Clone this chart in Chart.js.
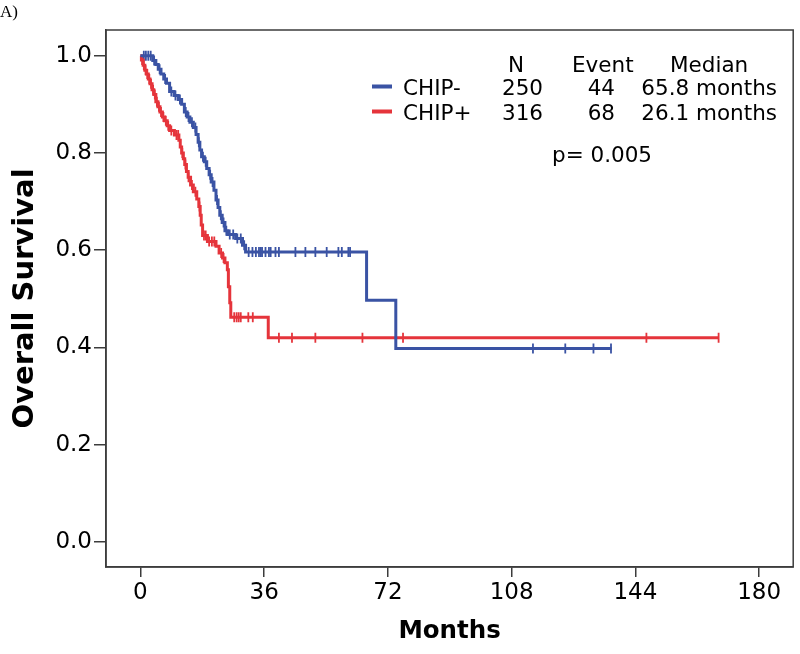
<!DOCTYPE html>
<html>
<head>
<meta charset="utf-8">
<script src="https://cdn.jsdelivr.net/npm/chart.js@4.4.1/dist/chart.umd.min.js"></script>
<style>
  html, body { margin: 0; padding: 0; background: #fff; }
  #wrap { position: relative; width: 800px; height: 654px; }
</style>
</head>
<body>
<div id="wrap"><canvas id="kmChart" width="800" height="654"></canvas></div>
<script>
// CHIP- : tiempos de evento (meses) y supervivencia despues del evento
var chipNegMonths = [0, 3.6, 4.5, 5.2, 6.0, 6.8, 7.6, 8.5, 9.8, 11.0, 12.0, 12.8, 13.6, 14.4, 15.4, 16.2, 16.8, 17.3, 17.8, 18.6, 19.3, 20.0, 20.6, 21.4, 22.0, 22.6, 23.1, 23.8, 24.6, 25.4, 27.7, 29.7, 30.6, 65.8, 74.3];
var chipNegSurv   = [1.0, 0.99, 0.982, 0.972, 0.962, 0.952, 0.943, 0.926, 0.918, 0.910, 0.900, 0.884, 0.874, 0.863, 0.852, 0.838, 0.822, 0.806, 0.792, 0.782, 0.768, 0.755, 0.740, 0.723, 0.703, 0.688, 0.672, 0.657, 0.640, 0.632, 0.624, 0.610, 0.596, 0.497, 0.398];
var chipNegLast = 137.1;
var chipNegCensor = [1.0, 1.6, 2.3, 3.0, 4.0, 5.6, 7.2, 9.0, 10.2, 11.5, 13.2, 14.0, 15.0, 16.0, 17.0, 18.2, 19.0, 20.3, 21.0, 22.3, 23.4, 24.2, 25.0, 26.0, 27.0, 28.2, 29.2, 30.2, 31.5, 32.6, 33.6, 34.5, 35.0, 35.4, 36.4, 37.4, 37.9, 39.3, 40.3, 45.1, 48.0, 50.9, 54.2, 57.6, 58.6, 60.5, 61.0, 114.2, 123.6, 131.8, 136.9];

// CHIP+
var chipPosMonths = [0, 0.3, 0.8, 1.3, 1.8, 2.3, 2.8, 3.4, 3.9, 4.5, 5.1, 5.7, 6.4, 7.0, 7.8, 8.5, 9.9, 11.2, 11.6, 12.0, 12.5, 12.9, 13.4, 13.9, 14.6, 15.4, 16.4, 17.0, 17.4, 17.7, 18.1, 19.5, 22.0, 22.9, 23.9, 24.6, 25.3, 25.6, 26.0, 26.3, 37.2];
var chipPosSurv   = [1.0, 0.991, 0.980, 0.970, 0.962, 0.952, 0.942, 0.930, 0.920, 0.905, 0.895, 0.884, 0.874, 0.866, 0.856, 0.846, 0.837, 0.826, 0.812, 0.800, 0.788, 0.776, 0.762, 0.750, 0.734, 0.720, 0.705, 0.690, 0.672, 0.652, 0.630, 0.618, 0.608, 0.594, 0.584, 0.574, 0.560, 0.525, 0.492, 0.462, 0.420];
var chipPosLast = 168.2;
var chipPosCensor = [0.5, 1.0, 1.5, 2.0, 2.6, 3.1, 3.7, 4.2, 4.8, 5.4, 6.0, 6.7, 7.4, 8.1, 9.0, 10.5, 11.0, 12.2, 13.1, 14.0, 15.0, 16.0, 17.2, 18.5, 19.0, 20.0, 20.8, 21.5, 23.5, 24.2, 27.3, 28.0, 28.6, 29.2, 31.4, 32.7, 40.3, 44.1, 50.9, 64.6, 76.4, 147.2, 168.2];

var xTicks = [0, 36, 72, 108, 144, 180];
var yTicks = [0.0, 0.2, 0.4, 0.6, 0.8, 1.0];

var groupNames = ['CHIP-', 'CHIP+'];
var groupN = ['250', '316'];
var groupEvents = ['44', '68'];
var groupMedians = ['65.8 months', '26.1 months'];
var pValueText = 'p= 0.005';

var BLUE = '#3a53a4';
var RED = '#e5343b';
var AXIS = '#3c3c3c';
var FONT = "'DejaVu Sans', 'Liberation Sans', Arial, sans-serif";

function stepPoints(months, surv, last) {
    var pts = [];
    for (var i = 0; i < months.length; i++) pts.push({ x: months[i], y: surv[i] });
    pts.push({ x: last, y: surv[surv.length - 1] });
    return pts;
}

function survAt(months, surv, t) {
    var s = surv[0];
    for (var i = 0; i < months.length; i++) {
        if (months[i] <= t) s = surv[i];
    }
    return s;
}

function censorPoints(times, months, surv) {
    return times.map(function (t) { return { x: t, y: survAt(months, surv, t) }; });
}

// marco completo y tabla de leyenda
var framePlugin = {
    id: 'frame',
    afterDraw: function (chart) {
        var ctx = chart.ctx;
        var a = chart.chartArea;
        ctx.save();
        ctx.strokeStyle = AXIS;
        ctx.lineWidth = 1.5;
        ctx.strokeRect(a.left, a.top, a.right - a.left, a.bottom - a.top);

        ctx.fillStyle = '#000';
        ctx.font = '21.5px ' + FONT;
        ctx.textBaseline = 'alphabetic';
        ctx.textAlign = 'left';
        ctx.fillText('N', 508, 72);
        ctx.fillText('Event', 572, 72);
        ctx.fillText('Median', 670, 72);

        var colors = [BLUE, RED];
        var rowY = [95, 120];
        for (var i = 0; i < groupNames.length; i++) {
            ctx.fillStyle = colors[i];
            ctx.fillRect(372, rowY[i] - 10.5, 20, 4);
            ctx.fillStyle = '#000';
            ctx.textAlign = 'left';
            ctx.fillText(groupNames[i], 403, rowY[i]);
            ctx.textAlign = 'right';
            ctx.fillText(groupN[i], 543, rowY[i]);
            ctx.fillText(groupEvents[i], 615, rowY[i]);
            ctx.fillText(groupMedians[i], 777, rowY[i]);
        }
        ctx.textAlign = 'left';
        ctx.fillText(pValueText, 552, 162);

        ctx.font = '17px "Liberation Serif", "Times New Roman", serif';
        ctx.fillText('A)', 0, 17);
        ctx.restore();
    }
};

var ctx = document.getElementById('kmChart').getContext('2d');
var kmChart = new Chart(ctx, {
    type: 'line',
    data: {
        datasets: [
            {
                label: 'CHIP-',
                data: stepPoints(chipNegMonths, chipNegSurv, chipNegLast),
                borderColor: BLUE,
                borderWidth: 3,
                stepped: 'before',
                pointRadius: 0,
                fill: false
            },
            {
                label: 'CHIP+',
                data: stepPoints(chipPosMonths, chipPosSurv, chipPosLast),
                borderColor: RED,
                borderWidth: 3,
                stepped: 'before',
                pointRadius: 0,
                fill: false
            },
            {
                label: 'CHIP- censored',
                data: censorPoints(chipNegCensor, chipNegMonths, chipNegSurv),
                showLine: false,
                pointStyle: 'line',
                pointRotation: 90,
                pointRadius: 5,
                pointBorderWidth: 1.8,
                borderColor: BLUE
            },
            {
                label: 'CHIP+ censored',
                data: censorPoints(chipPosCensor, chipPosMonths, chipPosSurv),
                showLine: false,
                pointStyle: 'line',
                pointRotation: 90,
                pointRadius: 5,
                pointBorderWidth: 1.8,
                borderColor: RED
            }
        ]
    },
    options: {
        responsive: false,
        animation: false,
        layout: { padding: { top: 30, right: 2, left: 0, bottom: 0 } },
        plugins: {
            legend: { display: false },
            tooltip: { enabled: false }
        },
        scales: {
            x: {
                type: 'linear',
                min: -10,
                max: 189.9,
                afterFit: function (scale) { scale.height = 87; },
                afterBuildTicks: function (scale) {
                    scale.ticks = xTicks.map(function (v) { return { value: v }; });
                },
                grid: { drawOnChartArea: false, drawTicks: true, tickLength: 10, color: AXIS, lineWidth: 1.5 },
                border: { display: true, color: AXIS, width: 1.5 },
                ticks: {
                    padding: 2,
                    color: '#000',
                    font: { family: FONT, size: 23 },
                    maxRotation: 0
                },
                title: {
                    display: true,
                    text: 'Months',
                    color: '#000',
                    font: { family: FONT, size: 24.5, weight: 'bold' },
                    padding: { top: 0, bottom: 8 }
                }
            },
            y: {
                type: 'linear',
                min: -0.0514,
                max: 1.0527,
                afterFit: function (scale) { scale.width = 106; },
                afterBuildTicks: function (scale) {
                    scale.ticks = yTicks.map(function (v) { return { value: v }; });
                },
                grid: { drawOnChartArea: false, drawTicks: true, tickLength: 12, color: AXIS, lineWidth: 1.5 },
                border: { display: true, color: AXIS, width: 1.5 },
                ticks: {
                    padding: 2,
                    color: '#000',
                    font: { family: FONT, size: 23 },
                    callback: function (v) { return Number(v).toFixed(1); }
                },
                title: {
                    display: true,
                    text: 'Overall Survival',
                    color: '#000',
                    font: { family: FONT, size: 29, weight: 'bold' },
                    padding: { top: 8, bottom: 0 }
                }
            }
        }
    },
    plugins: [framePlugin]
});
</script>
</body>
</html>
